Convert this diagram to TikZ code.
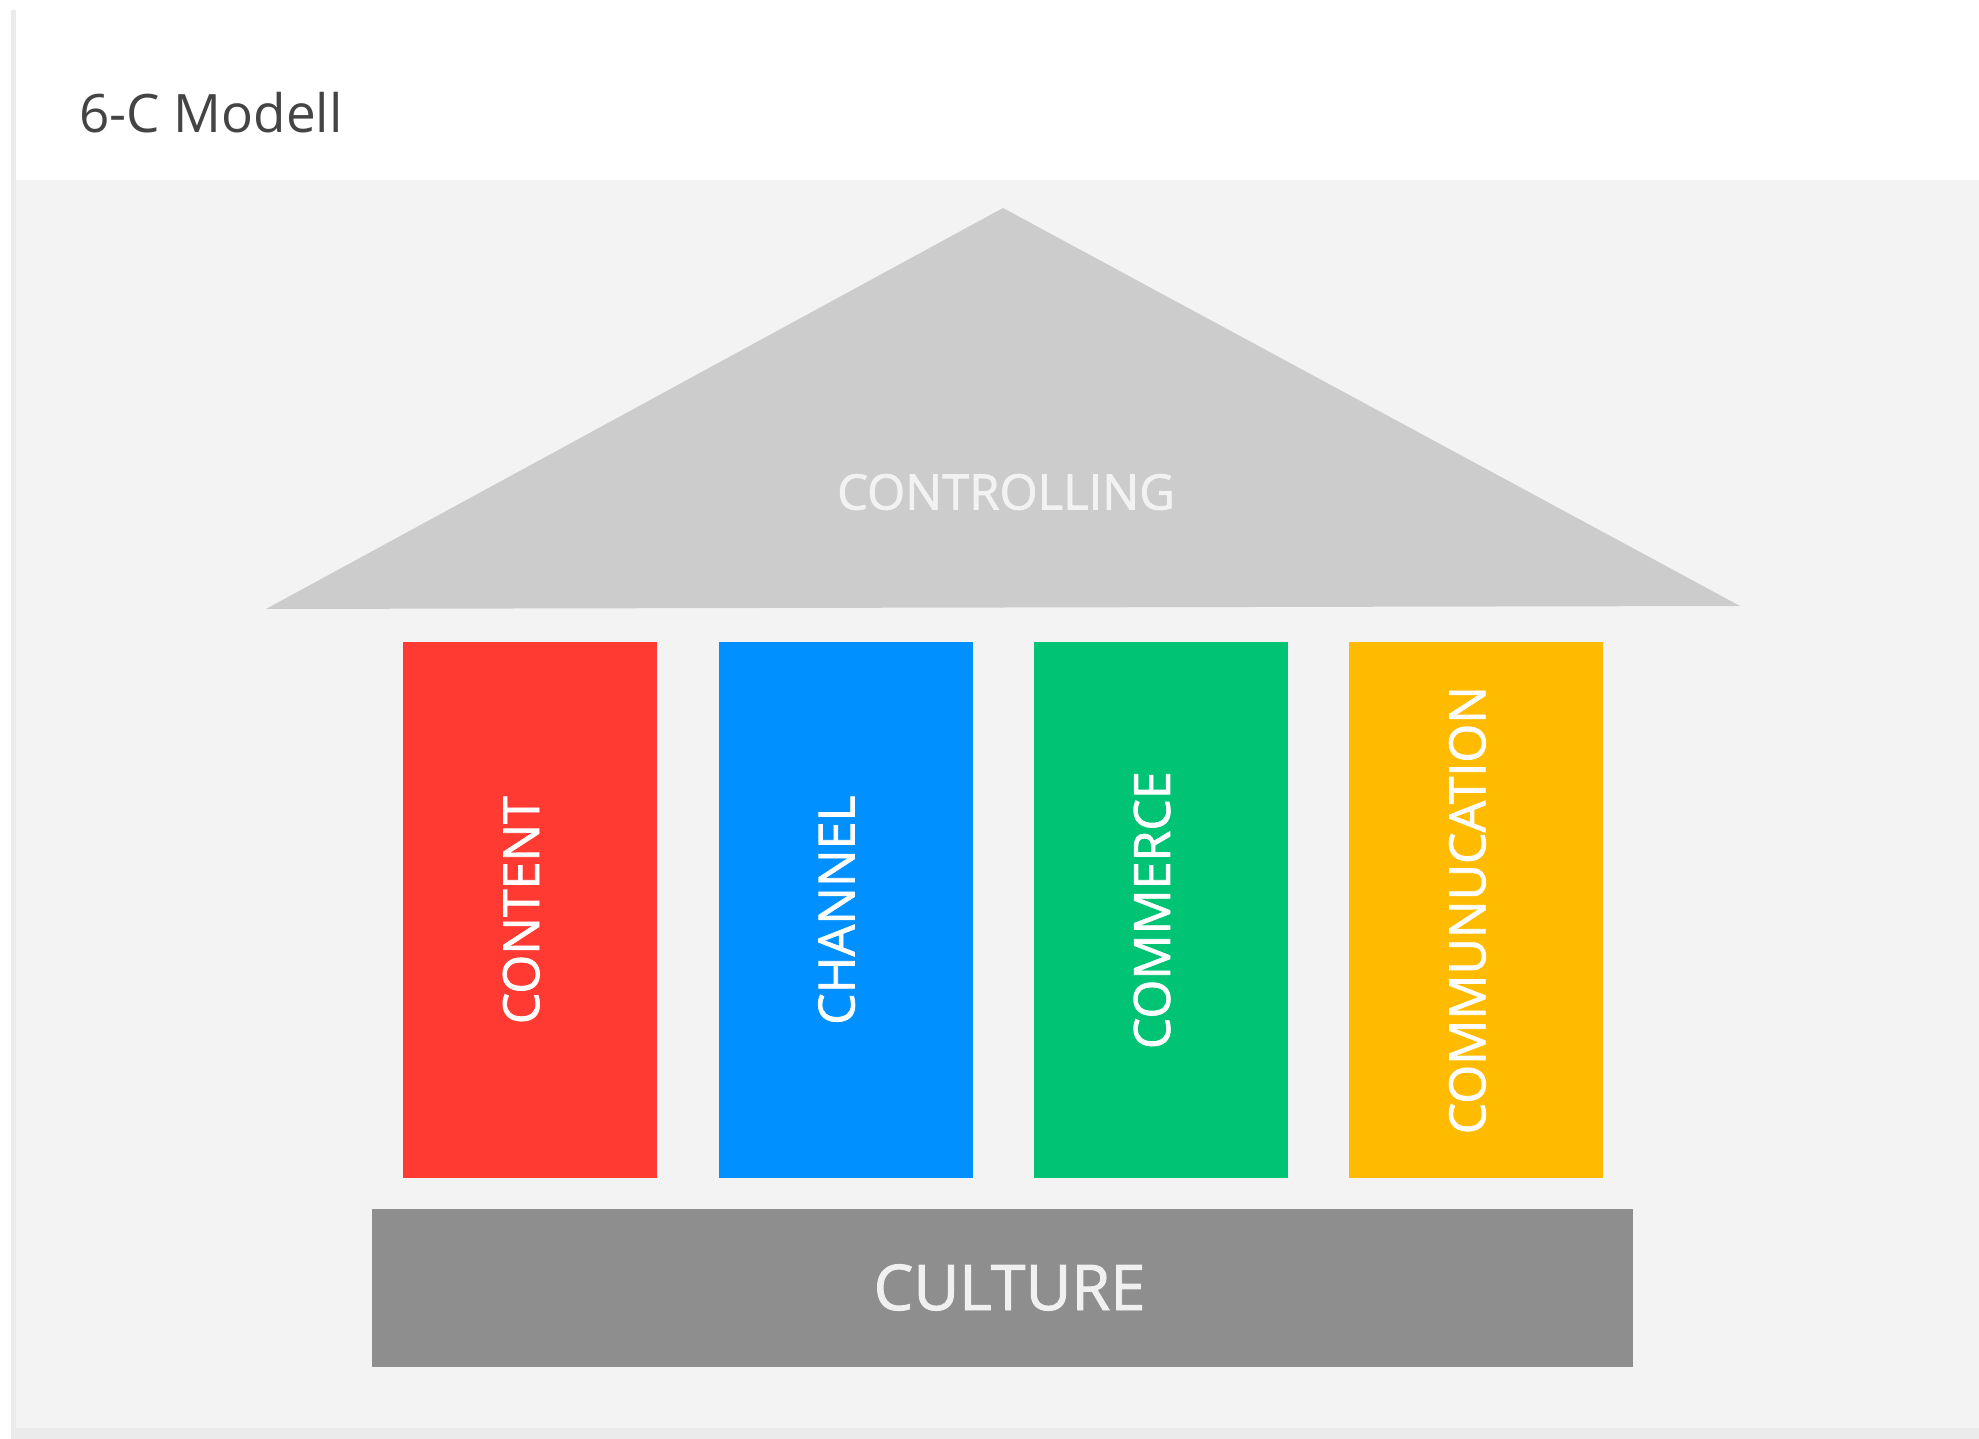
\documentclass[tikz,border=0pt]{standalone}
\usepackage{fontspec}
\setmainfont{Open Sans}
\newfontfamily\labelfont[FakeBold=1.5]{Open Sans}
\usetikzlibrary{
  positioning,  % Function "of" (e.g. [right=of x])
}
\newcommand{\fs}[1]{\fontsize{#1pt}{#1pt}\selectfont}
\definecolor{contentred}{HTML}{FF3A33}
\definecolor{channelblue}{HTML}{0090FF}
\definecolor{commercegreen}{HTML}{00C473}
\definecolor{commyellow}{HTML}{FFBB00}
\definecolor{roofgray}{HTML}{CCCCCC}
\definecolor{culturegray}{HTML}{8E8E8E}
\definecolor{pagegray}{HTML}{F3F3F3}
\definecolor{edgegray}{HTML}{EBEBEB}
\definecolor{titlegray}{HTML}{444444}
\def\mypillarw{254pt}
\def\mypillarh{536pt}
\def\myndist{61pt}
\tikzset{
  temple/.style={
    x=1pt,
    y=-1pt,
    node distance=\myndist
  },
  pillar/.style={
    rectangle,
    minimum width=\mypillarw,
    minimum height=\mypillarh,
    inner sep=0pt
  },
  pillar text/.style={
    rotate=90,
    text=white,
    font=\labelfont\fs{50},
    inner sep=0pt
  },
  roof text/.style={
    text=white!95!black,
    font=\labelfont\fs{49},
    inner sep=0pt
  },
  base block/.style={
    rectangle,
    minimum width=1261pt,
    minimum height=158pt,
    inner sep=0pt,
    fill=culturegray
  },
  base text/.style={
    text=white!94!black,
    font=\labelfont\fs{63},
    inner sep=0pt
  }
}

\begin{document}
\begin{tikzpicture}[temple]
\useasboundingbox (0,0) rectangle (1979,1439);
% page and card
\fill[white] (0,0) rectangle (1979,1439);
\fill[edgegray] (11,10) rectangle (1979,1439);
\fill[white] (16,0) rectangle (1979,180);
\fill[pagegray] (16,180) rectangle (1979,1428);
\node[anchor=base west,inner sep=0pt,text=titlegray,font=\fs{53}] (title) at (79,133) {6-C Modell};
% roof
\coordinate (apex) at (1003,208);
\coordinate (eaveL) at (266,609);
\coordinate (eaveR) at (1740,606);
\fill[roofgray] (apex) -- (eaveR) -- (eaveL) -- cycle;
\node[roof text] (controlling) at (1006,492) {CONTROLLING};
% pillars
\node[pillar,fill=contentred,anchor=north west] (content) at (403,642) {};
\node[pillar,fill=channelblue,right=of content] (channel) {};
\node[pillar,fill=commercegreen,right=of channel] (commerce) {};
\node[pillar,fill=commyellow,right=of commerce] (communucation) {};
\node[pillar text] (content-t) at ([xshift=-9pt]content.center) {CONTENT};
\node[pillar text] (channel-t) at ([xshift=-9pt]channel.center) {CHANNEL};
\node[pillar text] (commerce-t) at ([xshift=-9pt]commerce.center) {COMMERCE};
\node[pillar text] (communucation-t) at ([xshift=-9pt]communucation.center) {COMMUNUCATION};
% base
\node[base block] (culture) at (1002.5,1287.5) {};
\node[base text] (culture-t) at ([xshift=7pt]culture.center) {CULTURE};
\end{tikzpicture}
\end{document}
